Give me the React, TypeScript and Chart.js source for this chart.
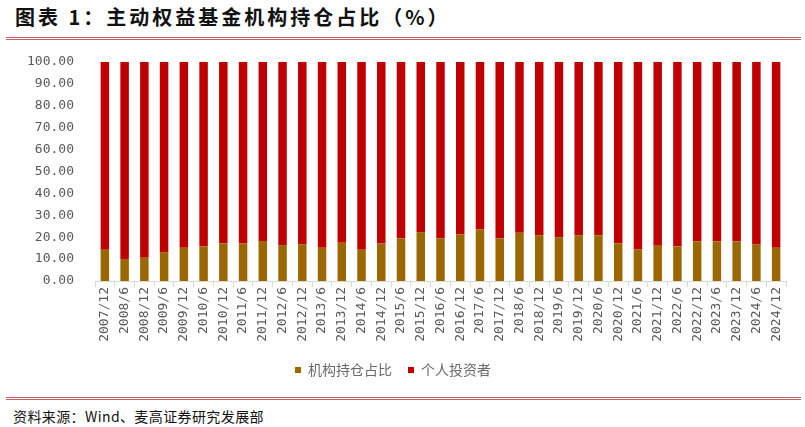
import { useEffect, useRef } from 'react'
import { Chart, registerables, type ChartConfiguration } from 'chart.js'

Chart.register(...registerables)

const periods = [
  '2007/12', '2008/6', '2008/12', '2009/6', '2009/12', '2010/6', '2010/12',
  '2011/6', '2011/12', '2012/6', '2012/12', '2013/6', '2013/12', '2014/6',
  '2014/12', '2015/6', '2015/12', '2016/6', '2016/12', '2017/6', '2017/12',
  '2018/6', '2018/12', '2019/6', '2019/12', '2020/6', '2020/12', '2021/6',
  '2021/12', '2022/6', '2022/12', '2023/6', '2023/12', '2024/6', '2024/12',
]

// 机构持仓占比 (%)
const institutional = [
  14.3, 10.1, 10.6, 13.2, 15.2, 15.7, 17.1, 17.1, 18.3, 16.4, 16.7, 15.2,
  17.5, 14.3, 17.1, 19.4, 22.3, 19.5, 21.2, 23.5, 19.5, 22.0, 20.9, 20.0,
  20.9, 20.9, 17.2, 14.4, 16.1, 15.7, 18.0, 18.0, 18.0, 16.7, 15.2,
]

// 个人投资者 (%)
const individual = [
  85.7, 89.9, 89.4, 86.8, 84.8, 84.3, 82.9, 82.9, 81.7, 83.6, 83.3, 84.8,
  82.5, 85.7, 82.9, 80.6, 77.7, 80.5, 78.8, 76.5, 80.5, 78.0, 79.1, 80.0,
  79.1, 79.1, 82.8, 85.6, 83.9, 84.3, 82.0, 82.0, 82.0, 83.3, 84.8,
]

const yTicks = [0, 10, 20, 30, 40, 50, 60, 70, 80, 90, 100]

const GOLD = '#9C6600'
const RED = '#C00000'
const GREY = '#595959'
const RULE = '#C9605E'

function RuleLines({ top }: { top: number }) {
  return (
    <>
      <div style={{ position: 'absolute', left: 6, right: 4, top, height: 1, background: RULE }} />
      <div style={{ position: 'absolute', left: 6, right: 4, top: top + 2, height: 1, background: RULE }} />
    </>
  )
}

function HoldingChart() {
  const canvasRef = useRef<HTMLCanvasElement>(null)

  useEffect(() => {
    const canvas = canvasRef.current
    if (!canvas) return

    const config: ChartConfiguration<'bar'> = {
      type: 'bar',
      data: {
        labels: periods,
        datasets: [
          { label: '机构持仓占比', data: institutional, backgroundColor: GOLD },
          { label: '个人投资者', data: individual, backgroundColor: RED },
        ],
      },
      options: {
        animation: false,
        responsive: false,
        devicePixelRatio: 1,
        layout: { padding: { top: 17, right: 19, bottom: 3, left: 0 } },
        datasets: { bar: { categoryPercentage: 1, barPercentage: 0.43 } },
        plugins: {
          legend: {
            position: 'bottom',
            labels: {
              boxWidth: 6,
              boxHeight: 6,
              padding: 16,
              color: '#6a6a6a',
              font: { family: '"Noto Sans CJK SC"', size: 14 },
            },
          },
          tooltip: { enabled: false },
        },
        scales: {
          x: {
            stacked: true,
            offset: true,
            afterFit: (s) => {
              s.height = 66
              s.paddingTop = 0
              s.paddingBottom = 0
            },
            grid: {
              offset: true,
              drawOnChartArea: false,
              drawTicks: true,
              tickLength: 6,
              color: '#D9D9D9',
            },
            border: { display: true, color: '#D9D9D9', width: 1 },
            ticks: {
              autoSkip: false,
              maxRotation: 90,
              minRotation: 90,
              padding: 0,
              color: GREY,
              font: { family: '"DejaVu Sans Mono"', size: 13 },
            },
          },
          y: {
            stacked: true,
            min: 0,
            max: 100,
            afterFit: (s) => {
              s.width = 95
              s.paddingTop = 0
              s.paddingBottom = 0
            },
            afterBuildTicks: (s) => { s.ticks = yTicks.map((v) => ({ value: v })) },
            grid: { display: false, drawTicks: false },
            border: { display: false },
            ticks: {
              padding: 21,
              color: GREY,
              font: { family: '"DejaVu Sans Mono"', size: 13 },
              callback: (v) => Number(v).toFixed(2),
            },
          },
        },
      },
    }

    const chart = new Chart(canvas, config)
    return () => chart.destroy()
  }, [])

  return <canvas ref={canvasRef} width={805} height={345} style={{ position: 'absolute', left: 0, top: 45 }} />
}

export default function App() {
  return (
    <div style={{ position: 'fixed', left: 0, top: 0, width: 805, height: 427, background: '#fff', overflow: 'hidden' }}>
      <div
        style={{
          position: 'absolute',
          left: 15,
          top: 3,
          fontFamily: '"Noto Sans CJK SC"',
          fontWeight: 700,
          fontSize: 20,
          letterSpacing: 3,
          color: '#111',
          whiteSpace: 'nowrap',
          lineHeight: '28px',
        }}
      >
        图表 1：主动权益基金机构持仓占比（%）
      </div>
      <RuleLines top={37} />
      <HoldingChart />
      <RuleLines top={397} />
      <div
        style={{
          position: 'absolute',
          left: 13,
          top: 405,
          fontFamily: '"Noto Sans CJK SC"',
          fontSize: 14,
          letterSpacing: 0.4,
          color: '#111',
          whiteSpace: 'nowrap',
          lineHeight: '22px',
        }}
      >
        资料来源：Wind、麦高证券研究发展部
      </div>
    </div>
  )
}
